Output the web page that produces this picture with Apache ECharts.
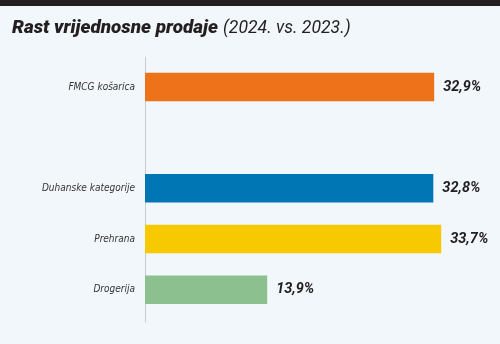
<!DOCTYPE html>
<html><head><meta charset="utf-8">
<script src="https://cdn.jsdelivr.net/npm/echarts@6/dist/echarts.min.js"></script>
<style>html,body{margin:0;padding:0;background:#f2f7fb}#c{width:500px;height:344px}</style>
</head><body><div id="c"></div>
<script>
var categories = ['FMCG košarica', '', 'Duhanske kategorije', 'Prehrana', 'Drogerija'];
var values = [32.9, null, 32.8, 33.7, 13.9];
var colors = ['#ee7219', '#ffffff', '#0077b4', '#f7c900', '#8cc08f'];

var chart = echarts.init(document.getElementById('c'));
chart.setOption({
  backgroundColor: '#f2f7fb',
  animation: false,
  graphic: [{type: 'rect', shape: {x: 0, y: 0, width: 500, height: 6}, style: {fill: '#231f20'}}],
  title: {
    left: 7, top: 14,
    text: '{a|Rast vrijednosne prodaje} {b|(2024. vs. 2023.)}',
    textStyle: {
      rich: {
        a: {fontFamily: 'Roboto', fontWeight: 900, fontStyle: 'italic', fontSize: 18.9, color: '#231f20'},
        b: {fontFamily: 'Roboto', fontWeight: 400, fontStyle: 'italic', fontSize: 17.6, color: '#231f20'}
      }
    }
  },
  grid: [
    {left: 145, top: 61.7, width: 351.6, height: 253.3},
    {left: 145, top: 57, width: 351.6, height: 265}
  ],
  xAxis: [
    {gridIndex: 0, type: 'value', min: 0, max: 40, show: false},
    {gridIndex: 1, type: 'value', min: 0, max: 40, show: false}
  ],
  yAxis: [
    {gridIndex: 0, type: 'category', data: categories, inverse: true,
     axisLine: {show: false}, axisTick: {show: false}, splitLine: {show: false},
     axisLabel: {margin: 10, fontFamily: 'DejaVu Sans Condensed', fontStyle: 'italic', fontSize: 10, color: '#333'}},
    {gridIndex: 1, type: 'value', min: 0, max: 1,
     axisLine: {show: true, lineStyle: {color: '#c9cdd1', width: 1}}, axisTick: {show: false},
     axisLabel: {show: false}, splitLine: {show: false}}
  ],
  series: [{
    type: 'bar', xAxisIndex: 0, yAxisIndex: 0,
    data: values.map(function (v, i) { return {value: v, itemStyle: {color: colors[i]}}; }),
    barWidth: 28.5,
    label: {
      show: true, position: 'right', distance: 9,
      formatter: function (p) { return p.value == null ? '' : String(p.value).replace('.', ',') + '%'; },
      fontFamily: 'Roboto', fontWeight: 'bold', fontStyle: 'italic', fontSize: 14.5, color: '#231f20'
    }
  }]
});
</script></body></html>
